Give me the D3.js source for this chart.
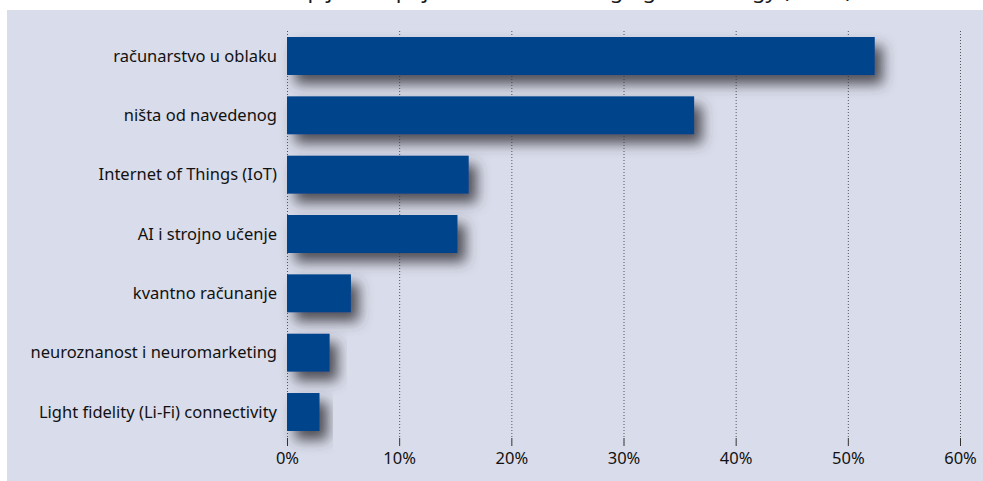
<!DOCTYPE html>
<html>
<head>
<meta charset="utf-8">
<script src="https://cdn.jsdelivr.net/npm/d3@7"></script>
<style>
  body { margin: 0; background: #fff; }
  svg { display: block; font-family: "Noto Sans", "Open Sans", sans-serif; }
</style>
</head>
<body>
<div id="chart"></div>
<script>
// data
var categories = [
    "računarstvo u oblaku",
    "ništa od navedenog",
    "Internet of Things (IoT)",
    "AI i strojno učenje",
    "kvantno računanje",
    "neuroznanost i neuromarketing",
    "Light fidelity (Li-Fi) connectivity"
];
var values = [52.4, 36.3, 16.2, 15.2, 5.7, 3.8, 2.9];
var tickValues = [0, 10, 20, 30, 40, 50, 60];
var title = "Zastupljenost pojedinih vrsta emerging technology (2021.)";

var svgWidth = 983;
var svgHeight = 481;

var svg = d3.select("#chart").append("svg")
            .attr("width", svgWidth)
            .attr("height", svgHeight);

var defs = svg.append("defs");
var shadow = defs.append("filter")
                 .attr("id", "shadow")
                 .attr("x", "-20%").attr("y", "-60%")
                 .attr("width", "160%").attr("height", "260%");
shadow.append("feDropShadow")
      .attr("dx", 8).attr("dy", 9)
      .attr("stdDeviation", 6.5)
      .attr("flood-color", "#35363d")
      .attr("flood-opacity", 0.85);

// panel
svg.append("rect")
   .attr("x", 7).attr("y", 10)
   .attr("width", svgWidth - 7).attr("height", svgHeight - 10)
   .attr("fill", "#d9dcea");

// title, cut off at the top as in the picture
svg.append("text")
   .attr("x", 852).attr("y", -2)
   .attr("text-anchor", "end")
   .attr("font-size", "22px")
   .attr("fill", "#1a1a1a")
   .text(title);

var xScale = d3.scaleLinear().domain([0, 60]).range([287, 960]);
var yScale = d3.scaleBand().domain(categories).range([37, 431])
               .paddingInner(0.36).paddingOuter(0);

// grid lines
svg.append("g").selectAll("line").data(tickValues).enter().append("line")
   .attr("x1", d => xScale(d) + 0.5).attr("x2", d => xScale(d) + 0.5)
   .attr("y1", 31).attr("y2", 438)
   .attr("stroke", "#55565e")
   .attr("stroke-width", 1)
   .attr("stroke-dasharray", "1,2");

// x axis
var bottomAxis = d3.axisBottom(xScale)
                   .tickValues(tickValues)
                   .tickFormat(d => d + "%")
                   .tickSizeInner(8).tickSizeOuter(0).tickPadding(6);
var axisG = svg.append("g")
               .attr("transform", "translate(0, 438)")
               .call(bottomAxis);
axisG.select(".domain").remove();
axisG.selectAll(".tick line").attr("stroke", "#333");
axisG.selectAll(".tick text")
     .attr("font-size", "16.5px")
     .attr("fill", "#111")
     .attr("font-family", "\"Noto Sans\", sans-serif");

// bars
svg.append("g").selectAll("rect").data(values).enter().append("rect")
   .attr("x", xScale(0))
   .attr("y", (d, i) => yScale(categories[i]))
   .attr("width", d => xScale(d) - xScale(0))
   .attr("height", yScale.bandwidth())
   .attr("fill", "#02448b")
   .attr("filter", "url(#shadow)");

// category labels
svg.append("g").selectAll("text").data(categories).enter().append("text")
   .attr("x", 277)
   .attr("y", d => yScale(d) + yScale.bandwidth() / 2)
   .attr("dy", "0.35em")
   .attr("text-anchor", "end")
   .attr("font-size", "16.5px")
   .attr("fill", "#111")
   .text(d => d);
</script>
</body>
</html>
